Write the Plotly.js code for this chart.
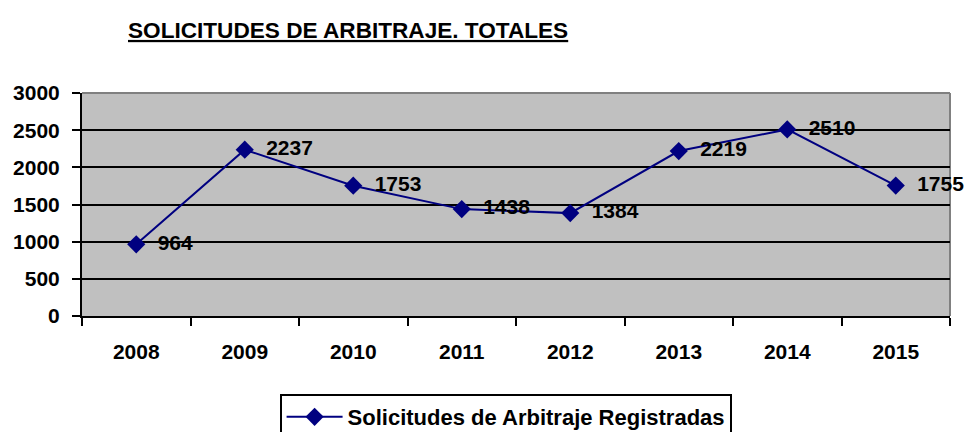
<!DOCTYPE html>
<html>
<head>
<meta charset="utf-8">
<script src="https://cdn.plot.ly/plotly-3.0.1.min.js"></script>
<style>html,body{margin:0;padding:0;background:#fff;}#chart{width:967px;height:432px;}</style>
</head>
<body>
<div id="chart"></div>
<script>
const years = ['2008','2009','2010','2011','2012','2013','2014','2015'];
const values = [964, 2237, 1753, 1438, 1384, 2219, 2510, 1755];
const labels = values.map(v => String(v));
const yTicks = [0, 500, 1000, 1500, 2000, 2500, 3000];
const seriesName = 'Solicitudes de Arbitraje Registradas';
const chartTitle = 'SOLICITUDES DE ARBITRAJE. TOTALES';

const trace = {
  x: years,
  y: values,
  text: labels.map(t => '  ' + t),
  type: 'scatter',
  mode: 'lines+markers+text',
  name: seriesName,
  textposition: 'middle right',
  textfont: {family: 'Liberation Sans, Arial, sans-serif', size: 21, color: '#000', weight: 'bold'},
  line: {color: '#000080', width: 2},
  marker: {symbol: 'diamond', size: 14, color: '#000080'},
  cliponaxis: false,
  hoverinfo: 'x+y'
};

const layout = {
  width: 967,
  height: 432,
  margin: {l: 82, r: 17, t: 93, b: 116},
  paper_bgcolor: '#ffffff',
  plot_bgcolor: '#C0C0C0',
  title: {
    text: '<u>' + chartTitle + '</u>',
    font: {family: 'Liberation Sans Narrow, Arial Narrow, sans-serif', size: 22.6, color: '#000', weight: 'bold'},
    xref: 'container', x: 128/967, xanchor: 'left',
    yref: 'container', y: 1 - 30/432, yanchor: 'middle'
  },
  showlegend: true,
  legend: {
    orientation: 'h',
    xref: 'paper', x: 0.488, xanchor: 'center',
    yref: 'container', y: 1 - 394/432, yanchor: 'top',
    bgcolor: '#ffffff',
    bordercolor: '#000',
    borderwidth: 2,
    itemwidth: 56,
    font: {family: 'Liberation Sans, Arial, sans-serif', size: 22, color: '#000', weight: 'bold'}
  },
  xaxis: {
    type: 'category',
    tickson: 'boundaries',
    ticks: 'outside',
    ticklen: 8,
    tickwidth: 2,
    tickcolor: '#000',
    showline: true,
    linecolor: '#000',
    linewidth: 2,
    showgrid: false,
    zeroline: false,
    ticklabelstandoff: 16,
    tickfont: {family: 'Liberation Sans, Arial, sans-serif', size: 21, color: '#000', weight: 'bold'},
    range: [-0.5, 7.5]
  },
  yaxis: {
    range: [0, 3000],
    tickvals: yTicks,
    ticktext: yTicks.map(String),
    ticks: 'outside',
    ticklen: 8,
    tickwidth: 2,
    tickcolor: '#000',
    showline: true,
    linecolor: '#000',
    linewidth: 2,
    showgrid: true,
    gridcolor: '#000',
    gridwidth: 2,
    zeroline: false,
    ticklabelstandoff: 8,
    tickfont: {family: 'Liberation Sans, Arial, sans-serif', size: 21, color: '#000', weight: 'bold'}
  },
  shapes: [
    {type: 'line', xref: 'paper', yref: 'paper', x0: 0, x1: 1, y0: 1, y1: 1, line: {color: '#808080', width: 2}, layer: 'below'},
    {type: 'line', xref: 'paper', yref: 'paper', x0: 1, x1: 1, y0: 0, y1: 1, line: {color: '#808080', width: 2}, layer: 'below'}
  ]
};

Plotly.newPlot('chart', [trace], layout, {displayModeBar: false, responsive: false});
</script>
</body>
</html>
